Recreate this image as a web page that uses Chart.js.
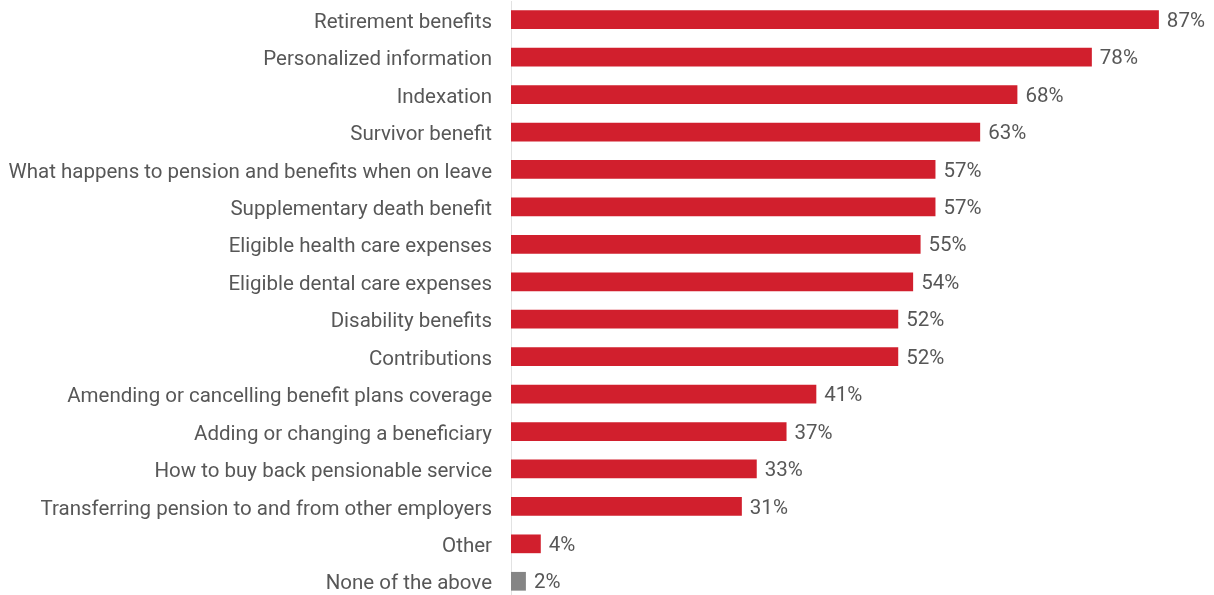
<!DOCTYPE html>
<html>
<head>
<meta charset="utf-8">
<script src="https://cdn.jsdelivr.net/npm/chart.js@4/dist/chart.umd.min.js"></script>
<style>
  html, body { margin: 0; padding: 0; background: #fff; overflow: hidden; }
  canvas { display: block; }
</style>
</head>
<body>
<canvas id="chart" width="1214" height="600"></canvas>
<script>
const topics = [
  'Retirement benefits',
  'Personalized information',
  'Indexation',
  'Survivor benefit',
  'What happens to pension and benefits when on leave',
  'Supplementary death benefit',
  'Eligible health care expenses',
  'Eligible dental care expenses',
  'Disability benefits',
  'Contributions',
  'Amending or cancelling benefit plans coverage',
  'Adding or changing a beneficiary',
  'How to buy back pensionable service',
  'Transferring pension to and from other employers',
  'Other',
  'None of the above'
]
const shares = [87, 78, 68, 63, 57, 57, 55, 54, 52, 52, 41, 37, 33, 31, 4, 2]

const RED = '#d11f2d'
const GREY = '#858585'
const TEXT = '#575757'
const FONT = "'Roboto', sans-serif"
const FONT_SIZE = 20.5

// value labels to the right of each bar
const valueLabels = {
  id: 'valueLabels',
  afterDatasetsDraw(chart) {
    const ctx = chart.ctx
    const meta = chart.getDatasetMeta(0)
    ctx.save()
    ctx.font = FONT_SIZE + 'px ' + FONT
    ctx.fillStyle = TEXT
    ctx.textAlign = 'left'
    ctx.textBaseline = 'middle'
    meta.data.forEach((bar, i) => {
      ctx.fillText(shares[i] + '%', bar.x + 8, bar.y + 2)
    })
    ctx.restore()
  }
}

const ctx = document.getElementById('chart').getContext('2d')
new Chart(ctx, {
  type: 'bar',
  data: {
    labels: topics,
    datasets: [{
      data: shares,
      backgroundColor: shares.map((v, i) => i === shares.length - 1 ? GREY : RED),
      categoryPercentage: 1,
      barPercentage: 0.5
    }]
  },
  options: {
    indexAxis: 'y',
    responsive: false,
    animation: false,
    layout: { padding: { top: 1, right: 3, bottom: 0, left: 0 } },
    plugins: {
      legend: { display: false },
      tooltip: { enabled: false }
    },
    scales: {
      x: {
        display: false,
        min: 0,
        max: 94
      },
      y: {
        afterFit(scale) {
          scale.width = 511
          scale.paddingTop = 0
          scale.paddingBottom = 0
        },
        grid: { display: false, drawTicks: false },
        border: { display: true, color: '#e2e2e2', width: 1 },
        ticks: {
          padding: 19,
          labelOffset: 3,
          color: TEXT,
          font: { family: FONT, size: FONT_SIZE }
        }
      }
    }
  },
  plugins: [valueLabels]
})
</script>
</body>
</html>
